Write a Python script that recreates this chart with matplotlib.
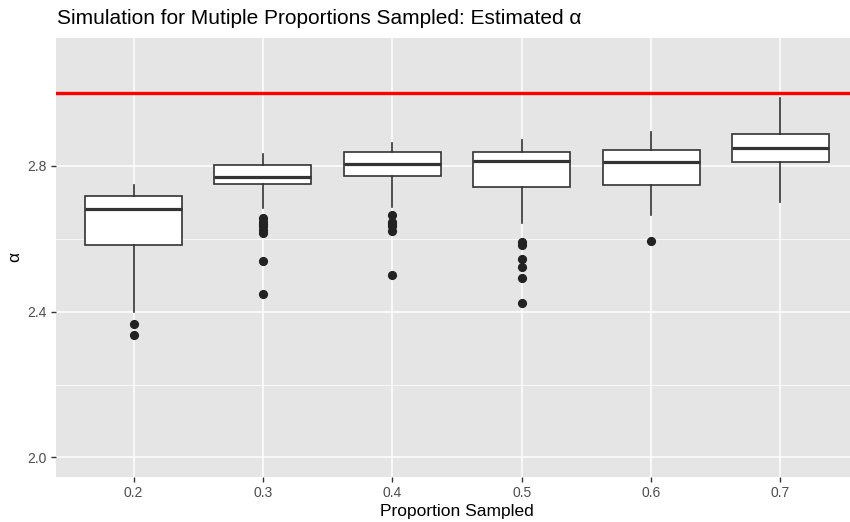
import matplotlib
matplotlib.use("Agg")
import matplotlib.pyplot as plt
import numpy as np

plt.rcParams['font.family'] = ['Liberation Sans', 'DejaVu Sans']

# proportion sampled and the box summaries of estimated alpha
proportions = ["0.2", "0.3", "0.4", "0.5", "0.6", "0.7"]
whisker_lo = [2.400, 2.684, 2.688, 2.643, 2.665, 2.701]
q1 = [2.582, 2.750, 2.772, 2.743, 2.747, 2.810]
medians = [2.682, 2.770, 2.805, 2.814, 2.812, 2.850]
q3 = [2.718, 2.802, 2.837, 2.839, 2.843, 2.889]
whisker_hi = [2.748, 2.832, 2.863, 2.871, 2.892, 2.986]
outliers = [
    [2.366, 2.335],
    [2.656, 2.647, 2.640, 2.635, 2.625, 2.617, 2.538, 2.449],
    [2.666, 2.647, 2.640, 2.635, 2.622, 2.500],
    [2.592, 2.583, 2.544, 2.523, 2.492, 2.423],
    [2.594],
    [],
]
true_alpha = 3.0

stats = []
for i in range(len(proportions)):
    stats.append(dict(med=medians[i], q1=q1[i], q3=q3[i],
                      whislo=whisker_lo[i], whishi=whisker_hi[i],
                      fliers=outliers[i]))

fig = plt.figure(figsize=(8.5, 5.22), dpi=100)
ax = fig.add_axes([56 / 850, 1 - 476.7 / 522, 802 / 850, 439 / 522])
ax.set_facecolor("#E5E5E5")
for s in ax.spines.values():
    s.set_visible(False)

pos = np.arange(1, len(proportions) + 1)

ax.bxp(stats, positions=pos, widths=0.75, showcaps=False, patch_artist=True,
       manage_ticks=False,
       boxprops=dict(facecolor="white", edgecolor="#333333", lw=1.2),
       whiskerprops=dict(color="#333333", lw=1.2),
       medianprops=dict(color="#333333", lw=2.3),
       flierprops=dict(marker="o", markersize=5.6, markerfacecolor="#222222",
                       markeredgecolor="#222222"))

ax.axhline(true_alpha, color="#FF0000", lw=2.4)

ax.set_xlim(0.4, len(proportions) + 0.6)
ax.set_ylim(1.947, 3.152)
ax.set_yticks([2.0, 2.4, 2.8])
ax.set_yticks([2.2, 2.6, 3.0], minor=True)
ax.set_xticks(pos)
ax.set_xticklabels(proportions)
ax.grid(which="major", color="white", lw=1.1)
ax.grid(which="minor", axis="y", color="white", lw=0.55)
ax.set_axisbelow(True)

ax.tick_params(which="major", length=3.5, width=1.0, color="#333333",
               labelsize=10, labelcolor="#4D4D4D", pad=3)
ax.tick_params(which="minor", length=0)
ax.set_xlabel("Proportion Sampled", fontsize=12.5, labelpad=3)
ax.set_ylabel("α", fontsize=12.5, labelpad=4)

fig.text(57 / 850, 1 - 24 / 522, "Simulation for Mutiple Proportions Sampled: Estimated α",
         fontsize=15, va="baseline", ha="left")

fig.savefig("out.png", dpi=100)
